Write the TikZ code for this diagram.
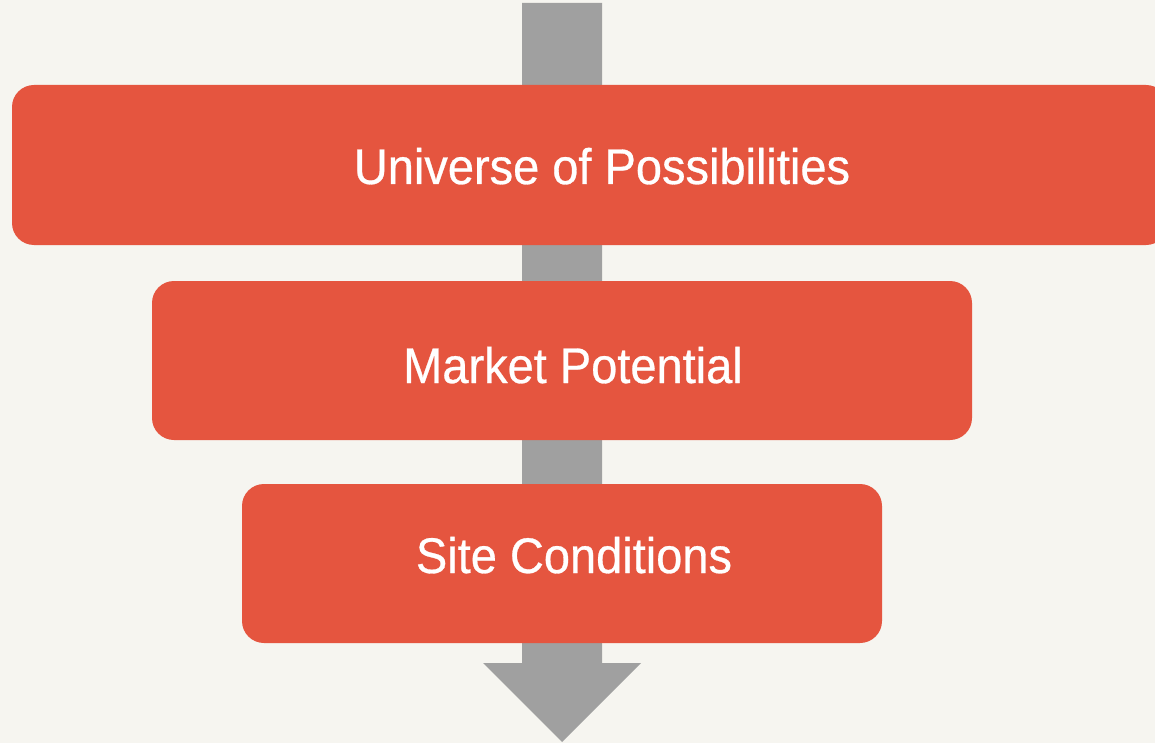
\documentclass[tikz,border=0pt]{standalone}
\usepackage{fontspec}
\setmainfont{Liberation Sans}
\newfontfamily\labelfont{Liberation Sans}[BoldFont={Liberation Sans},BoldFeatures={FakeBold=0.6}]
\definecolor{bgcol}{HTML}{F6F5F0}
\definecolor{boxred}{HTML}{E5553F}
\definecolor{flowgray}{HTML}{A0A0A0}
\begin{document}
\begin{tikzpicture}[x=1pt,y=-1pt,
  stage/.style={fill=boxred,draw=none,rounded corners=22pt,inner sep=0pt,
    minimum height=160pt},
  label/.style={text=white,font=\labelfont\bfseries\fontsize{50}{52}\selectfont,
    anchor=base,inner sep=0pt,xscale=0.94,transform shape}]
  % canvas
  \fill[bgcol] (0,0) rectangle (1155,743);
  \useasboundingbox (0,0) rectangle (1155,743);
  \clip (0,0) rectangle (1155,743);
  % downward flow arrow behind the stages
  \fill[flowgray] (522,3) -- (602,3) -- (602,663) -- (641,663) -- (562,742)
    -- (483,663) -- (522,663) -- cycle;
  % stages
  \node[stage,minimum width=1156pt] (box1) at (590,165) {};
  \node[stage,minimum width=820pt,minimum height=159pt] (box2) at (562,360.5) {};
  \node[stage,minimum width=640pt,minimum height=159pt] (box3) at (562,563.5) {};
  % stage titles
  \node[label] (t1) at (602,184) {Universe of Possibilities};
  \node[label] (t2) at (573,383) {Market Potential};
  \node[label] (t3) at (574,573) {Site Conditions};
\end{tikzpicture}
\end{document}
